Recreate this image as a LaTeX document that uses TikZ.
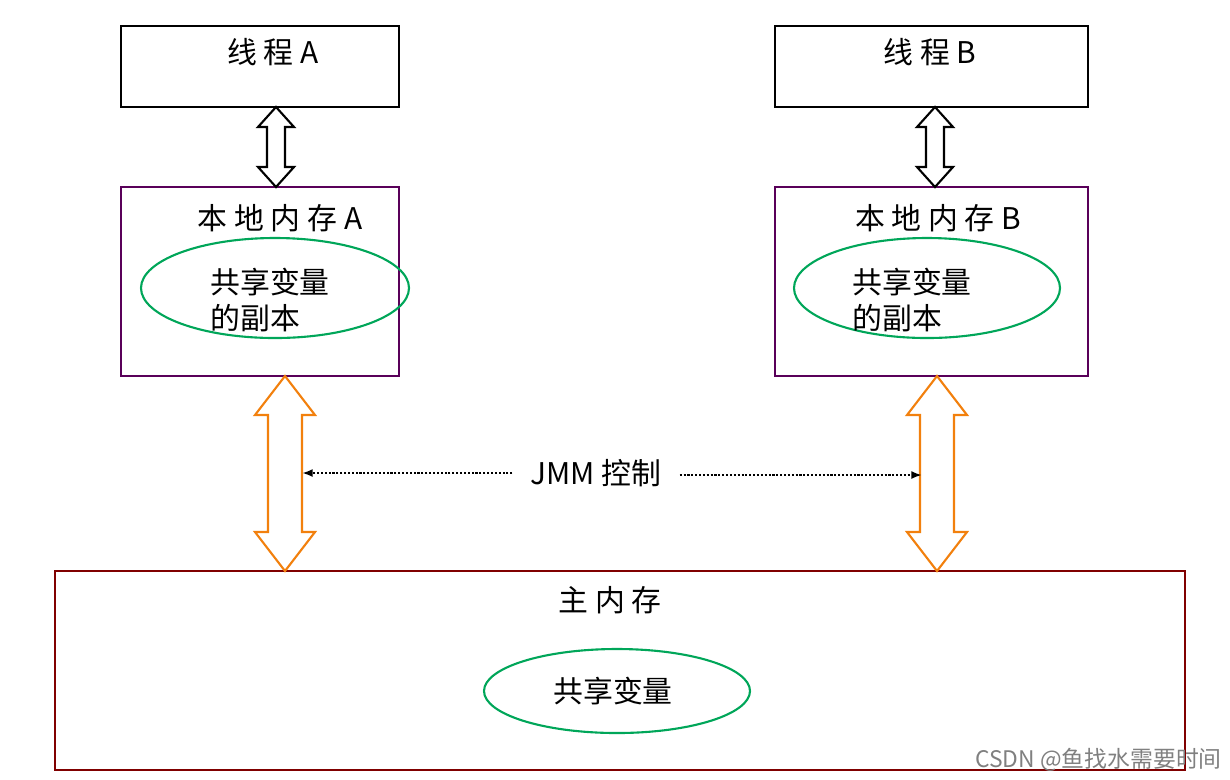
\documentclass[tikz,border=0pt]{standalone}
\usepackage{fontspec}
\usetikzlibrary{arrows.meta}
\setmainfont{Liberation Serif}
\newfontfamily\cjk{Noto Sans CJK SC}
\begin{document}
\begin{tikzpicture}[x=0.02cm,y=-0.02cm,
  box/.style={draw=#1,line width=1.2pt},
  ell/.style={draw=teal!70!green,line width=1.2pt},
  lab/.style={font=\cjk\fontsize{17}{20}\selectfont},
  dot/.style={densely dotted,line width=1.2pt,-{Latex[length=6pt]}}]
\useasboundingbox (0,0) rectangle (1230,779);
\newcommand\dbarrow[7]{% x, y1, y2, shaft half, head half, head len, color
  \draw[#7,line width=1.2pt,fill=white] (#1,#2) -- (#1+#5,#2+#6) -- (#1+#4,#2+#6) -- (#1+#4,#3-#6) -- (#1+#5,#3-#6) -- (#1,#3) -- (#1-#5,#3-#6) -- (#1-#4,#3-#6) -- (#1-#4,#2+#6) -- (#1-#5,#2+#6) -- cycle;}
% boxes
\draw[box=black] (121,26) rectangle (399,107);
\node[lab] (ta) at (273,52) {线 程 A};
\draw[box=black] (775,26) rectangle (1088,107);
\node[lab] (tb) at (930,52) {线 程 B};
\draw[box=violet!70!black] (121,187) rectangle (399,376);
\node[lab] (la) at (280,218) {本 地 内 存 A};
\draw[box=violet!70!black] (775,187) rectangle (1088,376);
\node[lab] (lb) at (938,218) {本 地 内 存 B};
\draw[box=red!50!black] (55,571) rectangle (1185,770);
\node[lab] (mm) at (610,600) {主 内 存};
% ellipses
\draw[ell] (275,288) ellipse [x radius=134,y radius=50];
\node[lab,align=left] (ca) at (270,300) {共享变量\\的副本};
\draw[ell] (927,288) ellipse [x radius=133,y radius=50];
\node[lab,align=left] (cb) at (912,300) {共享变量\\的副本};
\draw[ell] (617,691) ellipse [x radius=133,y radius=42];
\node[lab] (sv) at (613,691) {共享变量};
% arrows
\dbarrow{276}{107}{187}{9}{18}{20}{black}
\dbarrow{935}{107}{187}{9}{18}{20}{black}
\dbarrow{285}{376}{571}{17}{30}{39}{orange!80!brown}
\dbarrow{937}{376}{571}{17}{30}{39}{orange!80!brown}
% JMM
\node[lab] (jmm) at (596,473) {JMM 控制};
\coordinate (pa) at (302,473);
\coordinate (pb) at (922,475);
\draw[dot] (jmm.west) ++(-12,0) -- (pa);
\draw[dot] (jmm.east) ++(12,2) -- (pb);
\node[font=\cjk\fontsize{13}{15}\selectfont,text=gray,anchor=east] (wm) at (1228,760) {CSDN @鱼找水需要时间};
\end{tikzpicture}
\end{document}
